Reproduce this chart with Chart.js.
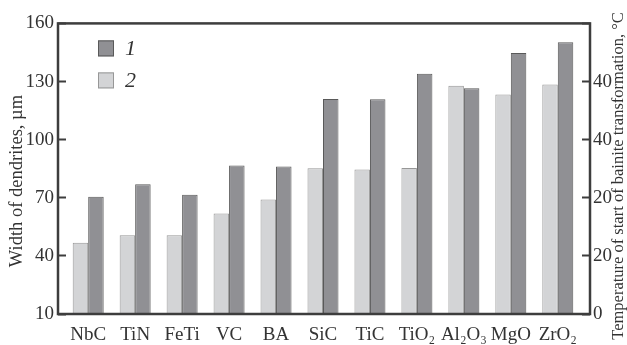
<!DOCTYPE html>
<html>
<head>
<meta charset="utf-8">
<script src="https://cdn.jsdelivr.net/npm/chart.js@4/dist/chart.umd.min.js"></script>
<style>
  html, body { margin: 0; padding: 0; background: #fff; }
  #wrap { width: 627px; height: 345px; }
</style>
</head>
<body>
<div id="wrap"><canvas id="c" width="627" height="345"></canvas></div>
<script>
// Additives (x categories)
const categories = ['NbC', 'TiN', 'FeTi', 'VC', 'BA', 'SiC', 'TiC', 'TiO\u2082', 'Al\u2082O\u2083', 'MgO', 'ZrO\u2082'];
// Series 1: width of dendrites, µm
const series1 = [70.5, 77, 71.5, 86.6, 86.2, 121, 120.8, 134, 126.5, 144.7, 150.3];
// Series 2: temperature of start of bainite transformation (drawn against the left scale)
const series2 = [46.8, 50.7, 50.7, 61.9, 69.1, 85.2, 84.6, 85.4, 127.8, 123.3, 128.5];
// Legend labels
const seriesLabels = ['1', '2'];
// Tick labels
const leftTicks = [10, 40, 70, 100, 130, 160];
const rightTickLabels = ['0', '20', '20', '40', '40', ''];

const FONT = '"Liberation Serif", "Times New Roman", serif';
const INK = '#333333';
const FRAME = '#3d3d3d';

const toPoints = arr => arr.map((v, i) => ({ x: i, y: v }));

// Box around the plot area
const framePlugin = {
  id: 'frame',
  afterDraw(chart) {
    const { ctx, chartArea: a } = chart;
    ctx.save();
    ctx.strokeStyle = FRAME;
    ctx.lineWidth = 2.5;
    ctx.strokeRect(a.left, a.top, a.right - a.left, a.bottom - a.top);
    ctx.restore();
  }
};

// Vertical axis titles
const titlesPlugin = {
  id: 'axisTitles',
  afterDraw(chart, args, opts) {
    const { ctx } = chart;
    ctx.save();
    ctx.fillStyle = INK;
    ctx.textAlign = 'center';
    ctx.textBaseline = 'middle';
    for (const t of opts.items) {
      ctx.save();
      ctx.translate(t.x, t.y);
      ctx.rotate(-Math.PI / 2);
      ctx.font = t.size + 'px ' + FONT;
      ctx.fillText(t.text, 0, 0);
      ctx.restore();
    }
    ctx.restore();
  }
};

// Legend drawn inside the plot, top-left
const legendPlugin = {
  id: 'insideLegend',
  afterDatasetsDraw(chart, args, opts) {
    const { ctx, chartArea: a } = chart;
    const sets = chart.data.datasets.slice().sort((p, q) => p.label.localeCompare(q.label));
    ctx.save();
    ctx.font = 'italic ' + opts.fontSize + 'px ' + FONT;
    ctx.textBaseline = 'middle';
    ctx.textAlign = 'left';
    sets.forEach((ds, i) => {
      const x = a.left + opts.offsetX;
      const y = a.top + opts.offsetY + i * opts.rowGap;
      ctx.fillStyle = ds.backgroundColor;
      ctx.fillRect(x, y, opts.box, opts.box);
      ctx.strokeStyle = ds.borderColor;
      ctx.lineWidth = 1;
      ctx.strokeRect(x + 0.5, y + 0.5, opts.box - 1, opts.box - 1);
      ctx.fillStyle = INK;
      ctx.fillText(ds.label, x + opts.box + 11, y + opts.box / 2 + 1);
    });
    ctx.restore();
  }
};

new Chart(document.getElementById('c'), {
  type: 'bar',
  data: {
    datasets: [
      {
        label: seriesLabels[1],
        data: toPoints(series2),
        backgroundColor: '#d3d4d6',
        borderColor: '#979797',
        borderWidth: 1,
        yAxisID: 'y'
      },
      {
        label: seriesLabels[0],
        data: toPoints(series1),
        backgroundColor: '#909094',
        borderColor: '#595959',
        borderWidth: 1,
        yAxisID: 'y'
      }
    ]
  },
  options: {
    responsive: false,
    animation: false,
    devicePixelRatio: 1,
    categoryPercentage: 0.66,
    barPercentage: 1.0,
    layout: { padding: { top: 19, left: 0, right: 0, bottom: 0 } },
    plugins: {
      legend: { display: false },
      tooltip: { enabled: false },
      insideLegend: { offsetX: 40, offsetY: 17, rowGap: 32, box: 16, fontSize: 22 },
      axisTitles: {
        items: [
          { text: 'Width of dendrites, \u00b5m', x: 17, y: 181, size: 18.5 },
          { text: 'Temperature of start of bainite transformation, \u00b0C', x: 619, y: 176, size: 16.5 }
        ]
      }
    },
    scales: {
      x: {
        type: 'linear',
        offset: false,
        min: -0.643,
        max: 10.686,
        grid: { display: false, offset: false },
        border: { display: false },
        afterBuildTicks(scale) {
          scale.ticks = categories.map((_, i) => ({ value: i }));
        },
        afterFit(scale) { scale.height = 31; },
        ticks: {
          autoSkip: false,
          maxRotation: 0,
          padding: 2,
          color: INK,
          font: { family: FONT, size: 19 },
          callback: v => categories[v]
        }
      },
      y: {
        position: 'left',
        min: leftTicks[0],
        max: leftTicks[leftTicks.length - 1],
        border: { display: false },
        grid: {
          display: true,
          drawOnChartArea: false,
          drawTicks: true,
          tickLength: -8,
          tickWidth: 2,
          tickColor: FRAME
        },
        afterBuildTicks(scale) {
          scale.ticks = leftTicks.map(v => ({ value: v }));
        },
        afterFit(scale) { scale.width = 58; },
        ticks: {
          padding: 12,
          color: INK,
          font: { family: FONT, size: 19 }
        }
      },
      y1: {
        position: 'right',
        min: 0,
        max: 50,
        border: { display: false },
        grid: {
          display: true,
          drawOnChartArea: false,
          drawTicks: true,
          tickLength: -8,
          tickWidth: 2,
          tickColor: FRAME
        },
        afterBuildTicks(scale) {
          scale.ticks = rightTickLabels.map((_, i) => ({ value: i * 10 }));
        },
        afterFit(scale) { scale.width = 37; },
        ticks: {
          padding: 11,
          color: INK,
          font: { family: FONT, size: 19 },
          callback: (v, i) => rightTickLabels[i]
        }
      }
    }
  },
  plugins: [legendPlugin, framePlugin, titlesPlugin]
});
</script>
</body>
</html>
